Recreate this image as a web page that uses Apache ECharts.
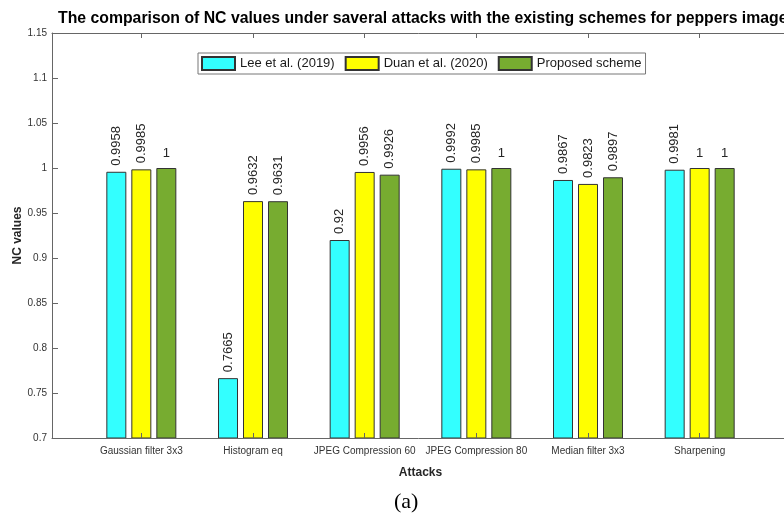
<!DOCTYPE html>
<html>
<head>
<meta charset="utf-8">
<script src="https://cdn.jsdelivr.net/npm/echarts@6/dist/echarts.min.js"></script>
<style>
  html, body { margin: 0; padding: 0; background: #fff; }
  #chart { width: 784px; height: 515px; }
</style>
</head>
<body>
<div id="chart"></div>
<script>
// Attack types along the horizontal axis
const categories = ['Gaussian filter 3x3', 'Histogram eq', 'JPEG Compression 60', 'JPEG Compression 80', 'Median filter 3x3', 'Sharpening'];
// NC values per scheme
const lee2019 = [0.9958, 0.7665, 0.92, 0.9992, 0.9867, 0.9981];
const duan2020 = [0.9985, 0.9632, 0.9956, 0.9985, 0.9823, 1];
const proposed = [1, 0.9631, 0.9926, 1, 0.9897, 1];
const seriesNames = ['Lee et al. (2019)', 'Duan et al. (2020)', 'Proposed scheme'];
const yTicks = [0.7, 0.75, 0.8, 0.85, 0.9, 0.95, 1, 1.05, 1.1, 1.15];

const positions = categories.map((c, i) => i + 1);
const FONT = 'Liberation Sans, Arial, Helvetica, sans-serif';

function toItems(vals) {
  return vals.map((v, i) => {
    const item = { value: [positions[i], v] };
    if (v === 1) {
      item.label = { rotate: 0, align: 'center', verticalAlign: 'bottom', distance: 8 };
    }
    return item;
  });
}

function barSeries(name, vals, color) {
  return {
    name: name,
    type: 'bar',
    barWidth: 20,
    barGap: '25%',
    data: toItems(vals),
    itemStyle: { color: color, borderColor: '#333', borderWidth: 1 },
    label: {
      show: true,
      position: 'top',
      rotate: 90,
      align: 'left',
      verticalAlign: 'middle',
      distance: 6,
      fontFamily: FONT,
      fontSize: 13,
      color: '#262626',
      formatter: p => String(p.value[1])
    }
  };
}

const chart = echarts.init(document.getElementById('chart'), null, { renderer: 'canvas' });
chart.setOption({
  animation: false,
  backgroundColor: '#fff',
  title: [
    {
      text: 'The comparison of NC values under saveral attacks with the existing schemes for peppers image',
      left: 53, top: 6,
      textStyle: { fontFamily: FONT, fontSize: 15.8, fontWeight: 'bold', color: '#000' }
    },
    {
      text: '(a)',
      left: 389, top: 486,
      textStyle: { fontFamily: 'Liberation Serif, Times New Roman, serif', fontSize: 22, fontWeight: 'normal', color: '#000' }
    }
  ],
  legend: {
    data: seriesNames,
    left: 198, top: 53,
    orient: 'horizontal',
    itemWidth: 33, itemHeight: 13, itemGap: 10,
    padding: [3, 4, 3, 3],
    borderColor: '#777', borderWidth: 1,
    backgroundColor: '#fff',
    icon: 'rect',
    textStyle: { fontFamily: FONT, fontSize: 13, color: '#1a1a1a' }
  },
  grid: { left: 52, top: 33, right: -5, bottom: 77, containLabel: false, outerBoundsMode: 'none' },
  xAxis: [
    {
      type: 'value',
      position: 'bottom',
      min: 0.2, max: 6.8,
      z: 5,
      name: 'Attacks',
      nameLocation: 'middle',
      nameGap: 29,
      nameMoveOverlap: false,
      nameTextStyle: { fontFamily: FONT, fontSize: 12, fontWeight: 'bold', color: '#262626' },
      axisLine: { show: true, onZero: false, lineStyle: { color: '#666', width: 1 } },
      axisTick: { show: true, inside: true, length: 5, customValues: positions, lineStyle: { color: '#666' } },
      axisLabel: {
        show: true, margin: 8, customValues: positions,
        fontFamily: FONT, fontSize: 10, color: '#333',
        formatter: v => categories[Math.round(v) - 1] || ''
      },
      splitLine: { show: false }
    },
    {
      type: 'value',
      position: 'top',
      min: 0.2, max: 6.8,
      z: 5,
      axisLine: { show: true, onZero: false, lineStyle: { color: '#666', width: 1 } },
      axisTick: { show: true, inside: true, length: 5, customValues: positions, lineStyle: { color: '#666' } },
      axisLabel: { show: false },
      splitLine: { show: false }
    }
  ],
  yAxis: {
    type: 'value',
    min: yTicks[0], max: yTicks[yTicks.length - 1], interval: 0.05,
    z: 5,
    name: 'NC values',
    nameLocation: 'middle',
    nameGap: 28,
    nameMoveOverlap: false,
    nameTextStyle: { fontFamily: FONT, fontSize: 12, fontWeight: 'bold', color: '#262626' },
    axisLine: { show: true, lineStyle: { color: '#666', width: 1 } },
    axisTick: { show: true, inside: true, length: 6, lineStyle: { color: '#666' } },
    axisLabel: {
      margin: 5, fontFamily: FONT, fontSize: 10, color: '#333',
      formatter: v => String(parseFloat(v.toFixed(2)))
    },
    splitLine: { show: false }
  },
  series: [
    barSeries(seriesNames[0], lee2019, '#33ffff'),
    barSeries(seriesNames[1], duan2020, '#ffff00'),
    barSeries(seriesNames[2], proposed, '#77ac30')
  ]
});
</script>
</body>
</html>
